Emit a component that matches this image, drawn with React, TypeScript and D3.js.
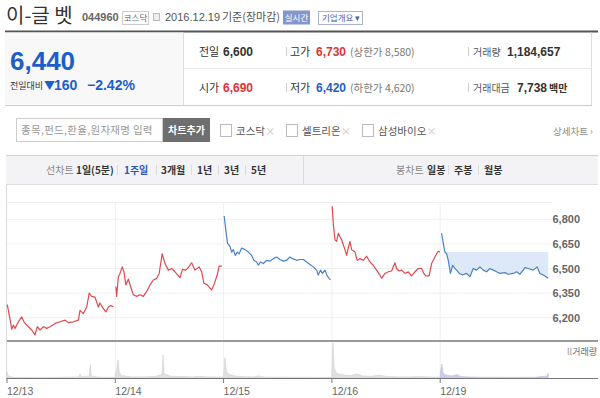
import React from 'react';
import * as d3 from 'd3';

const FONT = "'Noto Sans CJK KR', 'Noto Sans', sans-serif";
const NUM = "'Liberation Sans', Arial, sans-serif";

// session minutes 09:00 ~ 15:30
const SESSION = 390;

const dayLabels = ['12/13', '12/14', '12/15', '12/16', '12/19'];
const priceTicks = [6200, 6350, 6500, 6650, 6800];
const prevClose1213 = 6230;
const prevClose = 6600;

// [minute, price]
const p1213: [number, number][] = [
  [1, 6280], [11, 6190], [17, 6130], [23, 6155], [29, 6135], [41, 6175], [53, 6205], [61, 6175],
  [71, 6155], [77, 6145], [89, 6125], [101, 6095], [109, 6145], [119, 6125], [131, 6145], [143, 6135],
  [155, 6145], [173, 6165], [191, 6175], [209, 6185], [221, 6170], [239, 6175], [257, 6185], [263, 6245],
  [275, 6225], [287, 6265], [296, 6350], [305, 6330], [317, 6325], [329, 6265], [335, 6290], [347, 6255],
  [356, 6235], [365, 6265], [374, 6275], [383, 6265]
];
const p1214: [number, number][] = [
  [2, 6390], [5, 6330], [11, 6450], [17, 6470], [25, 6510], [31, 6480], [38, 6400], [47, 6435],
  [55, 6390], [65, 6340], [77, 6330], [89, 6340], [101, 6330], [113, 6360], [125, 6400], [137, 6430],
  [149, 6440], [158, 6470], [169, 6590], [179, 6530], [191, 6490], [203, 6500], [215, 6480], [233, 6445],
  [242, 6495], [254, 6490], [263, 6505], [275, 6535], [287, 6490], [302, 6510], [311, 6480], [319, 6410],
  [331, 6400], [347, 6370], [355, 6400], [367, 6460], [374, 6515], [384, 6515]
];
const p1215: [number, number][] = [
  [2, 6820], [8, 6735], [14, 6655], [23, 6635], [29, 6600], [35, 6615], [42, 6580], [49, 6600],
  [56, 6590], [65, 6625], [77, 6615], [89, 6600], [101, 6580], [109, 6550], [119, 6540], [125, 6520],
  [133, 6540], [143, 6530], [155, 6550], [167, 6545], [179, 6560], [191, 6570], [203, 6555], [215, 6545],
  [227, 6550], [239, 6570], [248, 6560], [263, 6550], [275, 6555], [287, 6555], [299, 6540], [311, 6525],
  [323, 6510], [335, 6490], [341, 6460], [349, 6490], [356, 6470], [365, 6490], [373, 6455], [380, 6440],
  [385, 6430]
];
const p1216: [number, number][] = [
  [1, 6880], [5, 6775], [11, 6675], [17, 6665], [23, 6715], [29, 6695], [35, 6675], [41, 6645],
  [47, 6615], [53, 6580], [59, 6625], [65, 6665], [71, 6615], [83, 6600], [91, 6550], [101, 6560],
  [113, 6550], [125, 6575], [137, 6540], [149, 6520], [161, 6490], [173, 6460], [179, 6440], [191, 6470],
  [203, 6480], [215, 6485], [227, 6535], [233, 6500], [242, 6485], [251, 6490], [263, 6470], [275, 6480],
  [287, 6455], [299, 6480], [311, 6500], [323, 6500], [331, 6470], [338, 6455], [350, 6455], [359, 6530],
  [365, 6550], [371, 6570], [377, 6590], [383, 6605], [389, 6600]
];
const p1219: [number, number][] = [
  [5, 6715], [11, 6655], [17, 6600], [23, 6590], [29, 6550], [37, 6470], [45, 6520], [53, 6500],
  [59, 6490], [69, 6470], [81, 6460], [95, 6470], [107, 6450], [119, 6500], [131, 6490], [143, 6510],
  [155, 6490], [167, 6480], [179, 6500], [191, 6490], [203, 6480], [215, 6470], [233, 6475], [245, 6465],
  [263, 6470], [275, 6480], [287, 6465], [299, 6490], [305, 6505], [317, 6500], [335, 6490], [349, 6510],
  [359, 6470], [371, 6460], [389, 6440]
];

// [minute, shares]
const v1213: [number, number][] = [
  [0, 9000], [4, 4000], [10, 1500], [30, 800], [70, 600], [120, 500], [180, 700], [230, 1200],
  [259, 1500], [263, 6000], [267, 1500], [296, 3000], [300, 19000], [304, 2500], [330, 1200], [360, 900], [389, 800]
];
const v1214: [number, number][] = [
  [0, 4000], [5, 12000], [10, 26000], [14, 9000], [20, 4000], [40, 2500], [60, 1500], [100, 1500],
  [140, 2000], [168, 5000], [172, 33000], [176, 6000], [200, 2500], [240, 2000], [280, 1500], [300, 2500],
  [330, 1500], [389, 1200]
];
const v1215: [number, number][] = [
  [0, 5000], [5, 29000], [9, 12000], [14, 7000], [22, 5000], [35, 3500], [50, 2500], [80, 1800],
  [110, 1500], [125, 3000], [150, 1200], [200, 1000], [260, 900], [320, 800], [389, 700]
];
const v1216: [number, number][] = [
  [0, 10000], [4, 50000], [8, 15000], [14, 9000], [22, 6000], [35, 5000], [50, 4000], [70, 3500],
  [90, 6000], [110, 3000], [140, 2500], [170, 4000], [200, 2000], [240, 1500], [280, 1500], [320, 2000],
  [360, 1200], [389, 1000]
];
const v1219: [number, number][] = [
  [0, 6000], [6, 20000], [10, 8000], [16, 5000], [25, 4000], [40, 3000], [60, 5000], [75, 2000],
  [100, 1500], [150, 1000], [200, 1000], [250, 800], [300, 900], [340, 1000], [385, 3000], [389, 7000]
];

const priceDays = [p1213, p1214, p1215, p1216, p1219];
const volumeDays = [v1213, v1214, v1215, v1216, v1219];

const RED = '#e04a4f';
const BLUE = '#4a80c8';

export default function App() {
  const x = d3.scaleLinear().domain([0, SESSION * 5]).range([7, 548.5]);
  const y = d3.scaleLinear().domain([6200, 6800]).range([317.7, 219.3]);
  const yv = d3.scaleLinear().domain([0, 50000]).range([378, 343]);

  const closes = priceDays.map(d => d[d.length - 1][1]);

  const lines = priceDays.map((data, i) => {
    const line = d3.line<[number, number]>()
      .x(d => x(i * SESSION + d[0]))
      .y(d => y(d[1]));
    const prev = i === 0 ? prevClose1213 : closes[i - 1];
    return { d: line(data), color: closes[i] >= prev ? RED : BLUE };
  });

  const last = priceDays.length - 1;
  const fillArea = d3.area<[number, number]>()
    .x(d => x(last * SESSION + d[0]))
    .y0(y(prevClose))
    .y1(d => y(Math.min(d[1], prevClose)))(priceDays[last]);

  const volPaths = volumeDays.map((data, i) =>
    d3.area<[number, number]>()
      .x(d => x(i * SESSION + d[0]))
      .y0(yv(0))
      .y1(d => yv(d[1]))(data)
  );

  const dayX = dayLabels.map((_, i) => x(i * SESSION));

  const tabLeft = [
    { t: '선차트', x: 46, c: '#888', w: 'normal' },
    { t: '1일(5분)', x: 76, c: '#333', w: 'bold' },
    { t: '1주일', x: 124, c: '#2f55b5', w: 'bold' },
    { t: '3개월', x: 161, c: '#333', w: 'bold' },
    { t: '1년', x: 197, c: '#333', w: 'bold' },
    { t: '3년', x: 224, c: '#333', w: 'bold' },
    { t: '5년', x: 251, c: '#333', w: 'bold' },
    { t: '봉차트', x: 396, c: '#888', w: 'normal' },
    { t: '일봉', x: 427, c: '#333', w: 'bold' },
    { t: '주봉', x: 454, c: '#333', w: 'bold' },
    { t: '월봉', x: 484, c: '#333', w: 'bold' },
  ];
  const tabSeps = [117, 156, 191, 218, 245, 448, 478];

  return (
    <svg width={600} height={398} style={{ position: 'absolute', left: 0, top: 0, background: '#fff' }}
      fontFamily={FONT}>
      {/* title row */}
      <text x={6} y={23} fontSize={20} fill="#333">이-글 벳</text>
      <text x={82} y={21} fontSize={11} fontWeight="bold" fill="#666" fontFamily={NUM}>044960</text>
      <rect x={122.5} y={11.5} width={26} height={13} fill="#fff" stroke="#ccc" />
      <text x={135.5} y={21} fontSize={8.5} fill="#666" textAnchor="middle">코스닥</text>
      <rect x={153.5} y={13.5} width={6} height={7} fill="#eee" stroke="#bbb" />
      <text x={165} y={21} fontSize={11} fill="#555" fontFamily={NUM}>2016.12.19</text>
      <text x={222} y={21} fontSize={11} fill="#555">기준(장마감)</text>
      <rect x={283} y={10.5} width={27} height={14} fill="#8496cc" />
      <text x={296.5} y={21} fontSize={8.5} fill="#fff" textAnchor="middle">실시간</text>
      <rect x={318.5} y={11.5} width={44} height={13} fill="#fff" stroke="#aab4d4" />
      <text x={322} y={21} fontSize={8.5} fill="#4a5fa8">기업개요 ▾</text>

      <line x1={5} x2={598} y1={31.5} y2={31.5} stroke="#555" strokeWidth={2} />

      {/* info box */}
      <rect x={5} y={32.5} width={178} height={72} fill="#f8f8f8" />
      <line x1={183.5} x2={183.5} y1={32.5} y2={105} stroke="#ddd" />
      <line x1={591.5} x2={591.5} y1={32.5} y2={105} stroke="#ddd" />
      <line x1={183.5} x2={591.5} y1={68.5} y2={68.5} stroke="#e8e8e8" />
      <line x1={5} x2={592} y1={105.5} y2={105.5} stroke="#ccc" />

      <text x={10} y={70} fontSize={26} fontWeight="bold" fill="#1c5fc8" fontFamily={NUM}>6,440</text>
      <text x={10} y={89} fontSize={9} fill="#333">전일대비</text>
      <text x={44} y={90} fontSize={11} fill="#1c5fc8">▼</text>
      <text x={54} y={90} fontSize={14} fontWeight="bold" fill="#1c5fc8" fontFamily={NUM}>160</text>
      <text x={87} y={90} fontSize={14} fontWeight="bold" fill="#1c5fc8" fontFamily={NUM}>−2.42%</text>

      <text x={199} y={56} fontSize={11} fill="#333">전일</text>
      <text x={223} y={56} fontSize={12} fontWeight="bold" fill="#333" fontFamily={NUM}>6,600</text>
      <text x={199} y={92} fontSize={11} fill="#333">시가</text>
      <text x={223} y={92} fontSize={12} fontWeight="bold" fill="#e0323a" fontFamily={NUM}>6,690</text>

      <line x1={286.5} x2={286.5} y1={47} y2={56} stroke="#ccc" />
      <line x1={286.5} x2={286.5} y1={83} y2={92} stroke="#ccc" />
      <text x={290} y={56} fontSize={11} fill="#333">고가</text>
      <text x={316} y={56} fontSize={12} fontWeight="bold" fill="#e0323a" fontFamily={NUM}>6,730</text>
      <text x={350} y={56} fontSize={10.5} fill="#777">(상한가 8,580)</text>
      <text x={290} y={92} fontSize={11} fill="#333">저가</text>
      <text x={316} y={92} fontSize={12} fontWeight="bold" fill="#1c5fc8" fontFamily={NUM}>6,420</text>
      <text x={350} y={92} fontSize={10.5} fill="#777">(하한가 4,620)</text>

      <line x1={468.5} x2={468.5} y1={47} y2={56} stroke="#ccc" />
      <line x1={468.5} x2={468.5} y1={83} y2={92} stroke="#ccc" />
      <text x={473} y={56} fontSize={10} fill="#555">거래량</text>
      <text x={507} y={56} fontSize={12} fontWeight="bold" fill="#333" fontFamily={NUM}>1,184,657</text>
      <text x={473} y={92} fontSize={10} fill="#555">거래대금</text>
      <text x={517} y={92} fontSize={12} fontWeight="bold" fill="#333" fontFamily={NUM}>7,738</text>
      <text x={549} y={92} fontSize={10} fontWeight="bold" fill="#333">백만</text>

      {/* search row */}
      <rect x={16.5} y={118.5} width={146} height={23} fill="#fff" stroke="#ccc" />
      <text x={21} y={134} fontSize={10.5} fill="#999" letterSpacing={0.3}>종목,펀드,환율,원자재명 입력</text>
      <rect x={163} y={118} width={47} height={24} fill="#6e6e6e" />
      <text x={186.5} y={134} fontSize={10} fontWeight="bold" fill="#fff" textAnchor="middle">차트추가</text>
      {[['코스닥', 220], ['셀트리온', 286], ['삼성바이오', 362]].map(([t, cx]) => (
        <g key={t as string}>
          <rect x={(cx as number) + 0.5} y={124.5} width={11} height={12} fill="#fff" stroke="#bbb" />
          <text x={(cx as number) + 16} y={135} fontSize={10.5} fill="#555">
            {t}<tspan fill="#c8c8c8">×</tspan>
          </text>
        </g>
      ))}
      <text x={553} y={135} fontSize={9.5} fill="#888">상세차트 ›</text>

      {/* tab bar */}
      <rect x={6} y={155} width={592} height={29} fill="#f3f3f6" />
      <line x1={6} x2={598} y1={155.5} y2={155.5} stroke="#d0d0d0" />
      <line x1={6} x2={598} y1={184.5} y2={184.5} stroke="#dedede" />
      <line x1={303.5} x2={303.5} y1={156} y2={184} stroke="#dcdcdc" />
      {tabSeps.map(sx => (
        <line key={sx} x1={sx + 0.5} x2={sx + 0.5} y1={165} y2={175} stroke="#dcdcdc" />
      ))}
      {tabLeft.map(t => (
        <text key={t.t} x={t.x} y={174} fontSize={10} fill={t.c} fontWeight={t.w}>{t.t}</text>
      ))}

      {/* chart frame and grid */}
      <line x1={6.5} x2={6.5} y1={185} y2={380} stroke="#d8d8d8" />
      <line x1={7} x2={552} y1={202.5} y2={202.5} stroke="#f0f0f0" />
      {priceTicks.map(t => (
        <g key={t}>
          <line x1={7} x2={552} y1={y(t)} y2={y(t)} stroke="#efefef" />
          <text x={580} y={y(t) + 4} fontSize={11} fontWeight="bold" fill="#666" textAnchor="end"
            fontFamily={NUM}>{d3.format(',')(t)}</text>
        </g>
      ))}
      {dayX.slice(1).map(dx => (
        <line key={dx} x1={dx} x2={dx} y1={202} y2={378} stroke="#efefef" />
      ))}

      {/* price */}
      <path d={fillArea || ''} fill="#dde8f8" />
      {lines.map((l, i) => (
        <path key={i} d={l.d || ''} fill="none" stroke={l.color} strokeWidth={1.2} strokeLinejoin="round" />
      ))}

      <line x1={7} x2={598} y1={341} y2={341} stroke="#999" strokeWidth={2} />

      {/* volume */}
      {volPaths.map((p, i) => (
        <path key={i} d={p || ''} fill={i === last ? '#cbcbec' : '#e0e0e0'}
          stroke={i === last ? '#c4c4e8' : '#d6d6d6'} strokeWidth={0.7} />
      ))}
      <text x={567} y={355} fontSize={9} fill="#666">
        <tspan fill="#999">ll</tspan>거래량
      </text>
      <line x1={7} x2={598} y1={378.5} y2={378.5} stroke="#777" />
      {dayX.map((dx, i) => (
        <g key={i}>
          <line x1={dx} x2={dx} y1={378} y2={383} stroke="#777" />
          <text x={dx} y={395} fontSize={10.5} fill="#666" fontFamily={NUM}>{dayLabels[i]}</text>
        </g>
      ))}
    </svg>
  );
}
